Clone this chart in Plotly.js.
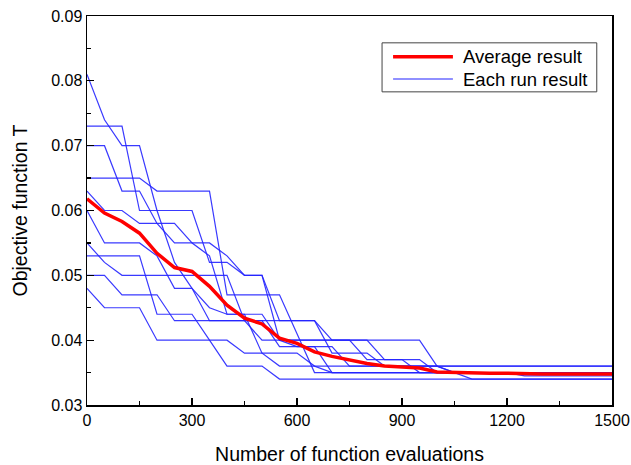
<!DOCTYPE html>
<html>
<head>
<meta charset="utf-8">
<script src="https://cdn.plot.ly/plotly-3.0.1.min.js"></script>
<style>
  html, body { margin: 0; padding: 0; background: #fff; }
  #chart { width: 631px; height: 465px; }
</style>
</head>
<body>
<div id="chart"></div>
<script>
// Number of function evaluations (sampling grid of the curves)
const evaluations = [0,50,100,150,200,250,300,350,400,450,500,550,600,650,700,750,800,850,900,950,1000,1050,1100,1150,1200,1250,1300,1350,1400,1450,1500];

// Each run result (objective function T)
const run1  = [0.081,0.074,0.070,0.070,0.060,0.052,0.048,0.045,0.044,0.044,0.044,0.040,0.040,0.040,0.040,0.040,0.037,0.037,0.037,0.035,0.035,0.035,0.035,0.035,0.035,0.035,0.035,0.035,0.035,0.035,0.035];
const run2  = [0.073,0.073,0.073,0.060,0.060,0.060,0.060,0.052,0.052,0.050,0.050,0.040,0.039,0.039,0.039,0.036,0.036,0.036,0.036,0.036,0.036,0.036,0.036,0.036,0.036,0.036,0.036,0.036,0.036,0.036,0.036];
const run3  = [0.070,0.070,0.063,0.063,0.058,0.055,0.055,0.053,0.044,0.044,0.038,0.038,0.038,0.036,0.036,0.036,0.036,0.036,0.036,0.036,0.036,0.035,0.035,0.035,0.035,0.035,0.035,0.035,0.035,0.035,0.035];
const run4  = [0.065,0.065,0.065,0.065,0.063,0.063,0.063,0.063,0.047,0.047,0.047,0.047,0.041,0.035,0.035,0.035,0.035,0.035,0.035,0.035,0.035,0.035,0.035,0.035,0.035,0.035,0.035,0.035,0.035,0.035,0.035];
const run5  = [0.063,0.060,0.060,0.058,0.058,0.058,0.055,0.055,0.053,0.050,0.050,0.043,0.043,0.043,0.040,0.040,0.040,0.037,0.037,0.037,0.035,0.035,0.035,0.035,0.035,0.035,0.035,0.035,0.035,0.035,0.035];
const run6  = [0.060,0.055,0.055,0.055,0.053,0.048,0.048,0.043,0.043,0.043,0.040,0.040,0.040,0.040,0.040,0.040,0.040,0.040,0.040,0.040,0.036,0.036,0.036,0.036,0.036,0.036,0.036,0.036,0.036,0.036,0.036];
const run7  = [0.055,0.052,0.050,0.050,0.050,0.050,0.050,0.050,0.050,0.043,0.043,0.039,0.039,0.039,0.035,0.035,0.035,0.035,0.035,0.035,0.035,0.035,0.035,0.035,0.035,0.035,0.035,0.035,0.035,0.035,0.035];
const run8  = [0.053,0.053,0.053,0.053,0.044,0.044,0.044,0.040,0.036,0.036,0.036,0.034,0.034,0.034,0.034,0.034,0.034,0.034,0.034,0.034,0.034,0.034,0.034,0.034,0.034,0.034,0.034,0.034,0.034,0.034,0.034];
const run9  = [0.050,0.050,0.047,0.047,0.047,0.043,0.043,0.043,0.043,0.043,0.043,0.043,0.043,0.043,0.038,0.038,0.038,0.036,0.036,0.036,0.036,0.035,0.035,0.035,0.035,0.0345,0.0345,0.0345,0.0345,0.0345,0.0345];
const run10 = [0.048,0.045,0.045,0.045,0.040,0.040,0.040,0.040,0.040,0.038,0.038,0.036,0.036,0.036,0.035,0.035,0.035,0.035,0.035,0.035,0.035,0.035,0.034,0.034,0.034,0.034,0.034,0.034,0.034,0.034,0.034];

// Average result
const averageResult = [0.0618,0.0596,0.0583,0.0565,0.0534,0.0512,0.0506,0.0483,0.0454,0.0434,0.0425,0.0403,0.0395,0.0382,0.0375,0.0369,0.0364,0.0360,0.0359,0.0357,0.0351,0.0350,0.0349,0.0349,0.0349,0.0348,0.0348,0.0348,0.0348,0.0348,0.0348];

const runs = [run1, run2, run3, run4, run5, run6, run7, run8, run9, run10];

const legendLabels = ["Average result", "Each run result"];
const xTitle = "Number of function evaluations";
const yTitle = "Objective function T";

const FONT = "Liberation Sans, Arial, Helvetica, sans-serif";
const BLUE = "rgb(35,35,255)";
const RED = "rgb(255,0,0)";

const traces = runs.map((r, i) => ({
  x: evaluations, y: r, type: "scatter", mode: "lines",
  line: { color: BLUE, width: 1.2 },
  opacity: 0.9,
  name: legendLabels[1], showlegend: false, hoverinfo: "skip"
}));
traces.push({
  x: evaluations, y: averageResult, type: "scatter", mode: "lines",
  line: { color: RED, width: 3.5 },
  name: legendLabels[0], showlegend: false
});

const axisCommon = {
  showgrid: false, zeroline: false,
  showline: true, linecolor: "#000", linewidth: 1.5, mirror: true,
  ticks: "inside", ticklen: 7, tickwidth: 1.3, tickcolor: "#000",
  tickfont: { family: FONT, size: 16, color: "#000" }
};

const layout = {
  width: 631, height: 465,
  margin: { l: 87, r: 19, t: 16, b: 60 },
  paper_bgcolor: "#fff", plot_bgcolor: "#fff",
  showlegend: false,
  xaxis: Object.assign({}, axisCommon, {
    range: [0, 1500], tick0: 0, dtick: 300,
    minor: { dtick: 150, ticks: "inside", ticklen: 4, tickwidth: 1.2, tickcolor: "#000" },
    title: { text: xTitle, font: { family: FONT, size: 19.5, color: "#000" }, standoff: 19 }
  }),
  yaxis: Object.assign({}, axisCommon, {
    range: [0.03, 0.09], tick0: 0.03, dtick: 0.01, tickformat: ".2f",
    minor: { dtick: 0.005, ticks: "inside", ticklen: 4, tickwidth: 1.2, tickcolor: "#000" },
    title: { text: yTitle, font: { family: FONT, size: 19.5, color: "#000" }, standoff: 18 }
  }),
  shapes: [
    { type: "rect", xref: "paper", yref: "paper", x0: 0.562, x1: 0.971, y0: 0.805, y1: 0.931,
      line: { color: "#444", width: 1 }, fillcolor: "#fff", layer: "above" },
    { type: "line", xref: "paper", yref: "paper", x0: 0.583, x1: 0.697, y0: 0.895, y1: 0.895,
      line: { color: RED, width: 3.5 }, layer: "above" },
    { type: "line", xref: "paper", yref: "paper", x0: 0.583, x1: 0.697, y0: 0.838, y1: 0.838,
      line: { color: BLUE, width: 1.2 }, layer: "above" }
  ],
  annotations: [
    { xref: "paper", yref: "paper", x: 0.712, y: 0.895, xanchor: "left", yanchor: "middle",
      text: legendLabels[0], showarrow: false, font: { family: FONT, size: 18.5, color: "#000" } },
    { xref: "paper", yref: "paper", x: 0.712, y: 0.838, xanchor: "left", yanchor: "middle",
      text: legendLabels[1], showarrow: false, font: { family: FONT, size: 18.5, color: "#000" } }
  ]
};

Plotly.newPlot("chart", traces, layout, { displayModeBar: false, staticPlot: true });
</script>
</body>
</html>
